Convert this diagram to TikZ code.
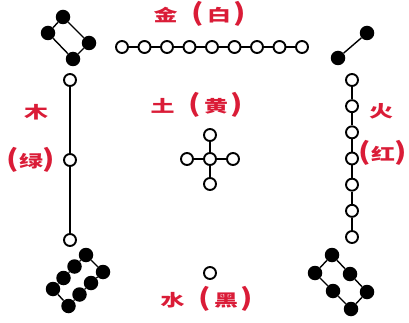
\documentclass[tikz,border=0pt]{standalone}
\usepackage{fontspec}
\usepackage{graphicx}
\newfontfamily\cjk{Noto Sans CJK SC}
\definecolor{labred}{RGB}{218,28,55}
\newcommand{\wz}[1]{\scalebox{1.45}[1]{\fontsize{16.5}{16.5}\selectfont\cjk\bfseries #1}}
\newcommand{\pz}[1]{\scalebox{1.3}[1]{\fontsize{24}{24}\selectfont\cjk\bfseries #1}}
\newcommand{\lab}[2]{\wz{#1}\hspace{14pt}\pz{(}\hspace{3pt}\wz{#2}\hspace{3pt}\pz{)}}
\begin{document}
\begin{tikzpicture}[x=1pt,y=-1pt,
  wdot/.style={circle,draw=black,line width=1.9pt,fill=white,inner sep=0pt,minimum size=12pt},
  bdot/.style={circle,fill=black,inner sep=0pt,minimum size=14.5pt},
  conn/.style={draw=black,line width=1.4pt},
  txt/.style={text=labred,inner sep=0pt,anchor=center}]
\useasboundingbox (0,0) rectangle (409,323);
\fill[white] (0,0) rectangle (409,323);
% labels
\node[txt] (tjin) at (200,14) {\lab{金}{白}};
\node[txt] (ttu) at (197,105) {\lab{土}{黄}};
\node[txt] (tshui) at (207,299) {\lab{水}{黑}};
\node[txt] (tmu) at (36,112) {\wz{木}};
\node[txt] (tlv) at (31,160) {\pz{(}\wz{绿}\pz{)}};
\node[txt] (thuo) at (381,111) {\wz{火}};
\node[txt] (thong) at (383,153) {\pz{(}\wz{红}\pz{)}};
% metal: 4 black, 9 white
\node[bdot] (m1) at (63,17) {};
\node[bdot] (m2) at (48,33) {};
\node[bdot] (m3) at (89,43) {};
\node[bdot] (m4) at (73,59) {};
\draw[conn] (m1) -- (m2) (m1) -- (m3) (m2) -- (m4) (m3) -- (m4);
\foreach \i in {1,...,9} \node[wdot] (t\i) at ({122+22.5*(\i-1)},47) {};
\foreach \i [evaluate=\i as \j using int(\i+1)] in {1,...,8} \draw[conn] (t\i) -- (t\j);
% fire: 2 black, 7 white
\node[bdot] (f1) at (367,33) {};
\node[bdot] (f2) at (338,58) {};
\draw[conn] (f1) -- (f2);
\foreach \i in {1,...,7} \node[wdot] (r\i) at (352,{80+26.17*(\i-1)}) {};
\foreach \i [evaluate=\i as \j using int(\i+1)] in {1,...,6} \draw[conn] (r\i) -- (r\j);
% wood: 3 white, 8 black
\node[wdot] (l1) at (70,80) {};
\node[wdot] (l2) at (70,160) {};
\node[wdot] (l3) at (70,240) {};
\draw[conn] (l1) -- (l2) (l2) -- (l3);
\node[bdot] (a1) at (86,255) {};
\node[bdot] (a2) at (74.5,266.5) {};
\node[bdot] (a3) at (63.5,278) {};
\node[bdot] (a4) at (53,289) {};
\node[bdot] (b1) at (103,272) {};
\node[bdot] (b2) at (91,283) {};
\node[bdot] (b3) at (79.5,294.5) {};
\node[bdot] (b4) at (68.5,306) {};
\draw[conn] (a1) -- (a2) (a2) -- (a3) (a3) -- (a4)
            (b1) -- (b2) (b2) -- (b3) (b3) -- (b4)
            (a1) -- (b1) (a4) -- (b4);
% water: 1 white, 6 black
\node[wdot] (w1) at (210,273) {};
\node[bdot] (c1) at (332,255) {};
\node[bdot] (c2) at (350,274) {};
\node[bdot] (c3) at (367,292) {};
\node[bdot] (d1) at (315,273) {};
\node[bdot] (d2) at (333,291) {};
\node[bdot] (d3) at (351,309) {};
\draw[conn] (c1) -- (c2) (c2) -- (c3) (d1) -- (d2) (d2) -- (d3)
            (c1) -- (d1) (c3) -- (d3);
% earth: 5 white
\node[wdot] (e0) at (210,159) {};
\node[wdot] (eu) at (210,135) {};
\node[wdot] (ed) at (210,184) {};
\node[wdot] (el) at (187,159) {};
\node[wdot] (er) at (233,159) {};
\draw[conn] (e0) -- (eu) (e0) -- (ed) (e0) -- (el) (e0) -- (er);
\end{tikzpicture}
\end{document}
